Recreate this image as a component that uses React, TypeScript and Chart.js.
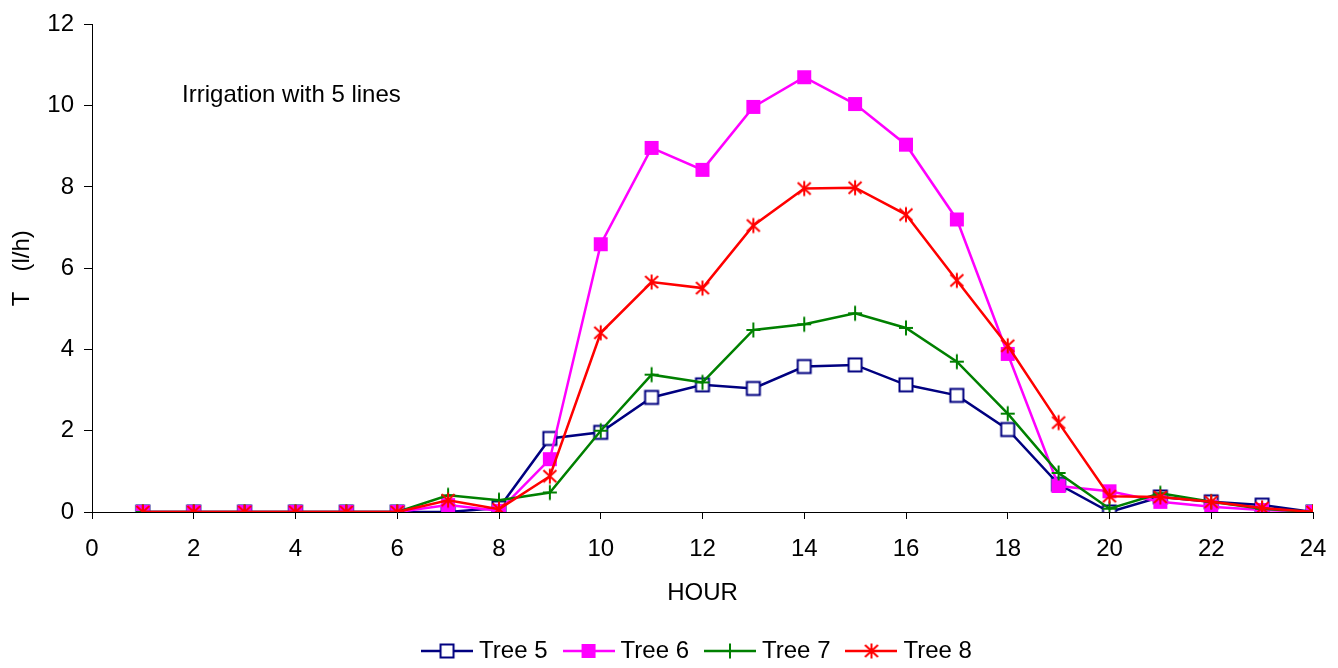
import React, { useEffect, useRef } from "react";
import { Chart, registerables } from "chart.js";

Chart.register(...registerables);

const hours = [1, 2, 3, 4, 5, 6, 7, 8, 9, 10, 11, 12, 13, 14, 15, 16, 17, 18, 19, 20, 21, 22, 23, 24];
const tree5 = [0, 0, 0, 0, 0, 0, 0.0, 0.1, 1.81, 1.96, 2.82, 3.13, 3.04, 3.58, 3.62, 3.13, 2.87, 2.03, 0.68, 0.0, 0.37, 0.25, 0.17, 0];
const tree6 = [0, 0, 0, 0, 0, 0, 0.17, 0.03, 1.3, 6.59, 8.96, 8.42, 9.97, 10.7, 10.04, 9.04, 7.2, 3.89, 0.64, 0.51, 0.25, 0.13, 0.05, 0];
const tree7 = [0, 0, 0, 0, 0, 0, 0.41, 0.29, 0.48, 2.0, 3.38, 3.19, 4.48, 4.62, 4.89, 4.53, 3.7, 2.42, 0.96, 0.08, 0.46, 0.25, 0.08, 0];
const tree8 = [0, 0, 0, 0, 0, 0, 0.29, 0.07, 0.88, 4.41, 5.66, 5.51, 7.05, 7.96, 7.98, 7.32, 5.7, 4.09, 2.2, 0.39, 0.37, 0.25, 0.1, 0];

const seriesNames = ["Tree 5", "Tree 6", "Tree 7", "Tree 8"];
const seriesColors = ["#000080", "#FF00FF", "#008000", "#FF0000"];
const annotationText = "Irrigation with 5 lines";
const xTitle = "HOUR";
const yTitle = "T   (l/h)";

const FONT = "Arial, 'Liberation Sans', sans-serif";

function makeCanvas(w: number, h: number) {
  const c = document.createElement("canvas");
  c.width = w;
  c.height = h;
  return c;
}

function drawMarker(ctx: CanvasRenderingContext2D, kind: number, cx: number, cy: number, color: string) {
  ctx.strokeStyle = color;
  ctx.fillStyle = color;
  ctx.lineWidth = 2;
  if (kind === 0) {
    ctx.fillStyle = "#fff";
    ctx.fillRect(cx - 6.5, cy - 6.5, 13, 13);
    ctx.strokeRect(cx - 6.5, cy - 6.5, 13, 13);
  } else if (kind === 1) {
    ctx.fillRect(cx - 7, cy - 7, 14, 14);
  } else if (kind === 2) {
    ctx.beginPath();
    ctx.moveTo(cx - 7, cy);
    ctx.lineTo(cx + 7, cy);
    ctx.moveTo(cx, cy - 7.5);
    ctx.lineTo(cx, cy + 7.5);
    ctx.stroke();
  } else {
    ctx.beginPath();
    ctx.moveTo(cx, cy - 7.5);
    ctx.lineTo(cx, cy + 7.5);
    ctx.moveTo(cx - 6.5, cy - 6);
    ctx.lineTo(cx + 6.5, cy + 6);
    ctx.moveTo(cx + 6.5, cy - 6);
    ctx.lineTo(cx - 6.5, cy + 6);
    ctx.stroke();
  }
}

function pointImage(kind: number, color: string) {
  const c = makeCanvas(18, 18);
  const ctx = c.getContext("2d")!;
  drawMarker(ctx, kind, 9, 9, color);
  return c;
}

function legendImage(kind: number, color: string) {
  const c = makeCanvas(52, 18);
  const ctx = c.getContext("2d")!;
  ctx.strokeStyle = color;
  ctx.lineWidth = 2.5;
  ctx.beginPath();
  ctx.moveTo(0, 9);
  ctx.lineTo(52, 9);
  ctx.stroke();
  drawMarker(ctx, kind, 26, 9, color);
  return c;
}

const annotationPlugin = {
  id: "annotationText",
  afterUpdate(chart: any) {
    const lg = chart.legend;
    if (lg) {
      lg.left += 43;
      lg.right += 43;
      lg.top += 5;
      lg.bottom += 5;
    }
  },
  afterDraw(chart: any) {
    const { ctx, scales } = chart;
    const x = scales.x.getPixelForValue(1.77);
    const y = scales.y.getPixelForValue(10.26);
    ctx.save();
    ctx.font = `24px ${FONT}`;
    ctx.fillStyle = "#000";
    ctx.textAlign = "left";
    ctx.textBaseline = "middle";
    ctx.fillText(annotationText, x, y);
    ctx.restore();
  },
};

export default function App() {
  const ref = useRef<HTMLCanvasElement>(null);
  useEffect(() => {
    document.body.style.margin = "0";
    const allData = [tree5, tree6, tree7, tree8];
    const datasets = allData.map((vals, i) => ({
      label: seriesNames[i],
      data: hours.map((h, j) => ({ x: h, y: vals[j] })),
      borderColor: seriesColors[i],
      backgroundColor: seriesColors[i],
      borderWidth: 2.5,
      pointStyle: pointImage(i, seriesColors[i]),
      pointRadius: 7,
      order: 4 - i,
      tension: 0,
    }));
    const legendImgs = seriesColors.map((c, i) => legendImage(i, c));
    const chart = new Chart(ref.current!, {
      type: "line",
      data: { datasets },
      plugins: [annotationPlugin],
      options: {
        animation: false,
        responsive: false,
        layout: { padding: { left: 0, right: 25, top: 22, bottom: 0 } },
        plugins: {
          tooltip: { enabled: false },
          legend: {
            position: "bottom",
            labels: {
              usePointStyle: true,
              pointStyleWidth: 40,
              padding: 21,
              color: "#000",
              font: { family: FONT, size: 24 },
              generateLabels: () =>
                seriesNames.map((n, i) => ({
                  text: n,
                  pointStyle: legendImgs[i],
                  fillStyle: seriesColors[i],
                  strokeStyle: seriesColors[i],
                  lineWidth: 0,
                  hidden: false,
                  datasetIndex: i,
                })),
            },
          },
        },
        scales: {
          x: {
            type: "linear",
            min: 0,
            max: 24,
            ticks: { stepSize: 2, color: "#000", font: { family: FONT, size: 24 }, padding: 16, maxRotation: 0 },
            grid: { display: true, drawOnChartArea: false, drawTicks: true, tickLength: 7, color: "#000" },
            border: { display: true, color: "#000", width: 1 },
            title: { display: true, text: xTitle, color: "#000", font: { family: FONT, size: 24 }, padding: { top: 0, bottom: 5 } },
            afterFit: (s: any) => {
              s.height = 101;
              s.paddingRight = 0;
              s.paddingLeft = 0;
            },
          },
          y: {
            min: 0,
            max: 12,
            ticks: { stepSize: 2, color: "#000", font: { family: FONT, size: 24 }, padding: 10 },
            grid: { display: true, drawOnChartArea: false, drawTicks: true, tickLength: 8, color: "#000" },
            border: { display: true, color: "#000", width: 1 },
            title: { display: true, text: yTitle, color: "#000", font: { family: FONT, size: 24 }, padding: { top: 8, bottom: 0 } },
            afterFit: (s: any) => {
              s.width = 92;
            },
          },
        },
      },
    });
    return () => chart.destroy();
  }, []);
  return (
    <div style={{ position: "absolute", left: 0, top: 0, width: 1338, height: 668, background: "#fff" }}>
      <canvas ref={ref} width={1338} height={668} />
    </div>
  );
}
